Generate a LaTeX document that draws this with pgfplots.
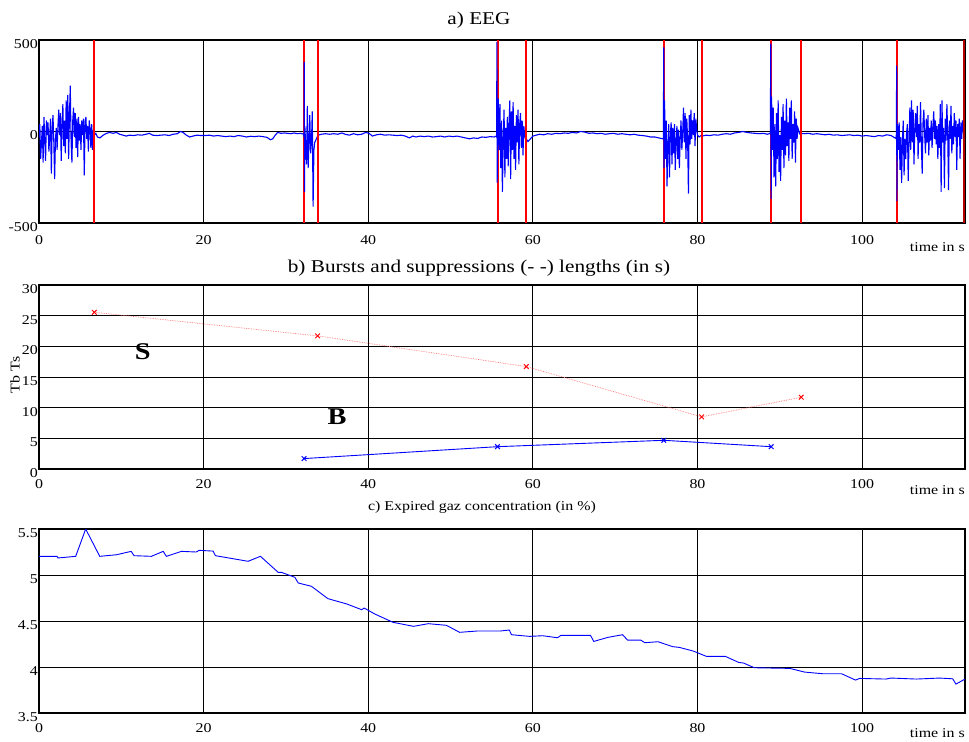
\documentclass[border=0pt]{standalone}
\usepackage{fontspec}
\setmainfont{Liberation Serif}[FakeStretch=1.18]
\usepackage{pgfplots}
\pgfplotsset{compat=1.18}
\newcommand\tk{\fontsize{13.5bp}{16bp}\selectfont}
\newcommand\ttl{\fontsize{18bp}{21bp}\selectfont}
\pgfplotsset{
  common/.style={
    scale only axis, width=926bp, xmin=0, xmax=112.5,
    xtick={0,20,40,60,80,100},
    axis line style={line width=1.5bp},
    tick style={black, line width=0.8bp}, major tick length=4bp,
    grid style={black, line width=0.8bp},
    xmajorgrids,
    tick label style={font=\tk},
    /pgf/number format/assume math mode=true,
    xticklabel style={anchor=north, inner sep=0pt, yshift=-10bp},
    yticklabel style={anchor=east, inner sep=0pt, xshift=-1bp, yshift=-4bp},
    clip=true,
  }
}
\begin{document}
\begin{tikzpicture}
\useasboundingbox (0,0) rectangle (969bp,-742bp);
% ---------------- a) EEG
\begin{axis}[common, at={(39bp,-223bp)}, anchor=south west, height=183bp,
  ymin=-500, ymax=500, ytick={-500,0,500}, yticklabels={-500,0,500},
  ymajorgrids,
  xticklabel style={yshift=-2bp}]
\addplot[red, line width=1.8bp, unbounded coords=jump] coordinates {
(6.72,-500) (6.72,500) (6.72,nan)
(32.2,-500) (32.2,500) (32.2,nan)
(33.85,-500) (33.85,500) (33.85,nan)
(55.75,-500) (55.75,500) (55.75,nan)
(59.2,-500) (59.2,500) (59.2,nan)
(75.9,-500) (75.9,500) (75.9,nan)
(80.5,-500) (80.5,500) (80.5,nan)
(88.95,-500) (88.95,500) (88.95,nan)
(92.6,-500) (92.6,500) (92.6,nan)
(104.2,-500) (104.2,500)
};
\addplot[blue, line width=1.1bp] coordinates {
(0.0,-30) (0.1,40) (0.2,-150) (0.3,-60) (0.4,30) (0.5,-170) (0.6,80) (0.7,-40) (0.8,-160) (0.9,60)
(1.0,-20) (1.1,50) (1.2,-110) (1.3,-30) (1.4,70) (1.5,-230) (1.6,20) (1.7,90) (1.8,-60) (1.9,-260)
(2.0,-40) (2.1,20) (2.2,-100) (2.3,30) (2.4,120) (2.5,-20) (2.6,100) (2.7,-160) (2.8,40) (2.9,150)
(3.0,-80) (3.1,60) (3.2,-120) (3.3,170) (3.4,-40) (3.5,200) (3.6,-150) (3.7,90) (3.8,250) (3.9,-60)
(4.0,-170) (4.1,60) (4.2,130) (4.3,-30) (4.4,100) (4.5,-90) (4.6,70) (4.7,-140) (4.8,80) (4.9,-50)
(5.0,40) (5.1,-100) (5.2,60) (5.3,-20) (5.4,70) (5.5,-240) (5.6,50) (5.7,80) (5.8,-40) (5.9,30)
(6.0,-110) (6.1,60) (6.2,20) (6.3,-90) (6.4,40) (6.5,-100) (6.6,10)
(6.7,-20) (6.9,-10) (7.1,-30) (7.4,-35) (7.8,-20) (8.2,-10) (8.6,-5) (9.0,-10) (9.4,-5) (9.8,-15)
(10.2,-20) (10.6,-25) (11.0,-20) (11.5,-22) (12.0,-18) (12.5,-20) (13.0,-15) (13.4,-10) (13.8,-20)
(14.3,-22) (14.8,-20) (15.3,-18) (15.8,-22) (16.3,-15) (16.8,-12) (17.2,0) (17.5,-5) (17.9,-20)
(18.3,-30) (18.7,-25) (19.2,-20) (19.7,-22) (20.2,-22) (20.7,-20) (21.2,-25) (21.7,-22) (22.2,-25)
(22.7,-28) (23.2,-25) (23.7,-28) (24.2,-22) (24.7,-25) (25.2,-30) (25.7,-26) (26.2,-28) (26.7,-25)
(27.2,-28) (27.7,-32) (28.1,-45) (28.4,-40) (28.7,-20) (29.0,-5) (29.4,-10) (29.8,-8) (30.2,-10)
(30.6,-12) (31.0,-8) (31.4,-12) (31.8,-10) (32.15,-15)
(32.2,-30) (32.22,380) (32.26,-330) (32.3,30) (32.4,-80) (32.5,-180) (32.6,140) (32.7,-200)
(32.8,-60) (32.9,90) (33.0,-120) (33.1,-60) (33.2,110) (33.3,-410) (33.4,-100) (33.5,-60)
(33.7,-40) (33.9,-20)
(34.3,-15) (34.8,-12) (35.3,-15) (35.8,-12) (36.3,-15) (36.8,-8) (37.2,-15) (37.7,-20) (38.2,-12)
(38.7,-18) (39.2,-15) (39.7,-5) (40.1,-10) (40.5,-25) (41.0,-18) (41.5,-15) (42.0,-20) (42.5,-18)
(43.0,-20) (43.5,-22) (44.0,-20) (44.5,-25) (45.0,-35) (45.4,-25) (45.8,-30) (46.3,-25) (46.8,-28)
(47.3,-25) (47.8,-30) (48.3,-28) (48.8,-25) (49.3,-30) (49.8,-25) (50.3,-28) (50.8,-25) (51.3,-30)
(51.8,-35) (52.3,-40) (52.8,-35) (53.3,-38) (53.8,-30) (54.3,-32) (54.8,-28) (55.3,-30) (55.55,-25)
(55.6,-30) (55.63,490) (55.66,-280) (55.8,180) (55.9,-100) (56.0,150) (56.1,-200) (56.2,60)
(56.3,-330) (56.4,-40) (56.5,120) (56.6,-250) (56.7,20) (56.8,-150) (56.9,80) (57.0,-190)
(57.1,40) (57.2,170) (57.3,-260) (57.4,110) (57.5,-100) (57.6,160) (57.7,-150) (57.8,30)
(57.9,-210) (58.0,90) (58.1,-60) (58.2,120) (58.3,-180) (58.4,40) (58.5,100) (58.6,-90)
(58.7,60) (58.8,-130) (58.9,30) (59.0,-20) (59.1,-40)
(59.2,-40) (59.4,-55) (59.7,-40) (60.0,-25) (60.4,-20) (60.8,-15) (61.3,-18) (61.8,-12) (62.3,-15)
(62.8,-10) (63.3,-12) (63.8,-8) (64.3,-10) (64.8,-5) (65.3,-8) (65.8,0) (66.3,-3) (66.8,-10)
(67.3,-8) (67.8,-12) (68.3,-10) (68.8,-15) (69.3,-12) (69.8,-10) (70.3,-15) (70.8,-12) (71.3,-15)
(71.8,-18) (72.3,-15) (72.8,-20) (73.3,-22) (73.8,-25) (74.3,-30) (74.8,-30) (75.3,-35) (75.8,-40)
(75.85,-40) (75.9,460) (75.93,-200) (76.0,170) (76.1,-150) (76.2,60) (76.3,-300) (76.4,-80)
(76.5,40) (76.6,-250) (76.7,-20) (76.8,50) (76.9,-180) (77.0,20) (77.1,-120) (77.2,40)
(77.3,-210) (77.4,-50) (77.5,30) (77.6,-150) (77.7,10) (77.8,-200) (77.9,-40) (78.0,60)
(78.1,-100) (78.2,-10) (78.3,130) (78.4,-60) (78.5,100) (78.6,-150) (78.7,70) (78.8,-40)
(78.9,-340) (79.0,90) (79.1,-70) (79.2,120) (79.3,-40) (79.4,60) (79.5,-20) (79.6,100)
(79.7,-80) (79.8,70) (79.9,10) (80.0,-20) (80.2,-30) (80.5,-20)
(80.6,-25) (81.0,-20) (81.5,-22) (82.0,-18) (82.5,-20) (83.0,-15) (83.5,-12) (84.0,-15) (84.5,-8)
(85.0,-5) (85.5,0) (86.0,-5) (86.5,-8) (87.0,-10) (87.5,-12) (88.0,-10) (88.5,-15) (88.85,-10)
(88.9,480) (88.95,-370) (89.0,190) (89.1,-100) (89.2,130) (89.3,-250) (89.4,40) (89.5,-300)
(89.6,100) (89.7,-150) (89.8,170) (89.9,-220) (90.0,-20) (90.1,-270) (90.2,80) (90.3,-100)
(90.4,150) (90.5,-200) (90.6,60) (90.7,-130) (90.8,180) (90.9,-80) (91.0,50) (91.1,-160)
(91.2,130) (91.3,-40) (91.4,170) (91.5,-150) (91.6,40) (91.7,-60) (91.8,110) (91.9,-170)
(92.0,70) (92.1,-40) (92.2,20) (92.4,-10) (92.5,0)
(92.6,-10) (93.0,-12) (93.5,-10) (94.0,-15) (94.5,-12) (95.0,-15) (95.5,-18) (96.0,-15) (96.5,-20)
(97.0,-18) (97.5,-22) (98.0,-20) (98.5,-18) (99.0,-22) (99.5,-20) (100.0,-25) (100.5,-22)
(101.0,-25) (101.5,-28) (102.0,-22) (102.5,-25) (103.0,-18) (103.5,-22) (104.0,-35) (104.15,-40)
(104.2,360) (104.22,-380) (104.3,40) (104.4,-100) (104.5,50) (104.6,-210) (104.7,-30) (104.8,-280)
(104.9,-50) (105.0,60) (105.1,-240) (105.2,-40) (105.3,-150) (105.4,-10) (105.5,40) (105.6,-270)
(105.7,-60) (105.8,130) (105.9,-100) (106.0,170) (106.1,-60) (106.2,120) (106.3,-180) (106.4,20)
(106.5,100) (106.6,-30) (106.7,140) (106.8,-150) (106.9,40) (107.0,-60) (107.1,160) (107.2,-80)
(107.3,-230) (107.4,50) (107.5,120) (107.6,-20) (107.7,-120) (107.8,70) (107.9,-60) (108.0,90)
(108.1,-130) (108.2,20) (108.3,-50) (108.4,60) (108.5,-90) (108.6,30) (108.7,110) (108.8,-40)
(108.9,60) (109.0,-70) (109.1,30) (109.2,-150) (109.3,40) (109.4,-90) (109.5,150) (109.6,-330)
(109.7,170) (109.8,-60) (109.9,20) (110.0,-310) (110.1,70) (110.2,-50) (110.3,150) (110.4,-20)
(110.5,-320) (110.6,60) (110.7,-40) (110.8,140) (110.9,-120) (111.0,30) (111.1,-70) (111.2,100)
(111.3,-30) (111.4,60) (111.5,-210) (111.6,40) (111.7,-30) (111.8,70) (111.9,-150) (112.0,50)
(112.1,-40) (112.2,60) (112.3,10) (112.45,30)
};
\addplot[red, line width=1.8bp, unbounded coords=jump] coordinates {
(6.72,-500) (6.72,500) (6.72,nan)
(33.85,-500) (33.85,500) (33.85,nan)
(59.2,-500) (59.2,500) (59.2,nan)
(80.5,-500) (80.5,500) (80.5,nan)
(92.6,-500) (92.6,500)
};
\addplot[red!70!black, line width=1.6bp] coordinates {(112.4,-500) (112.4,500)};
\end{axis}
% ---------------- b) bursts and suppressions
\begin{axis}[common, at={(39bp,-469bp)}, anchor=south west, height=184bp,
  ymin=0, ymax=30, ytick={0,5,10,15,20,25,30}, ymajorgrids]
\addplot[red!55, densely dotted, line width=0.7bp, mark=x, mark size=3.3bp,
  mark options={solid, red, line width=1bp}] coordinates {
(6.72,25.55) (33.85,21.7) (59.2,16.7) (80.5,8.5) (92.6,11.7)
};
\addplot[blue, line width=0.9bp, mark=x, mark size=3.3bp,
  mark options={blue, line width=1bp}] coordinates {
(32.2,1.7) (55.7,3.64) (75.9,4.68) (88.95,3.64)
};
\node[font=\fontsize{24bp}{26bp}\selectfont\bfseries] at (axis cs:12.6,19.2) {S};
\node[font=\fontsize{24bp}{26bp}\selectfont\bfseries] at (axis cs:36.2,8.6) {B};
\end{axis}
% ---------------- c) expired gas
\begin{axis}[common, at={(39bp,-713bp)}, anchor=south west, height=184bp,
  ymin=3.5, ymax=5.5, ytick={3.5,4,4.5,5,5.5}, ymajorgrids]
\addplot[blue, line width=0.9bp] coordinates {
(0,5.203) (2.19,5.203) (2.3,5.185) (4.46,5.203) (5.67,5.5) (7.38,5.203) (9.4,5.22) (11.2,5.257)
(11.55,5.21) (13.66,5.203) (15.08,5.257) (15.48,5.203) (17.3,5.257) (19.1,5.25) (19.45,5.268)
(21.15,5.26) (21.44,5.21) (25.4,5.149) (26.9,5.203) (29.06,5.029) (29.46,5.029) (31.08,4.975)
(31.5,4.913) (33.1,4.877) (35.1,4.743) (37.4,4.685) (39.2,4.623) (39.5,4.641) (40.8,4.576)
(43.0,4.486) (45.5,4.442) (47.3,4.471) (49.5,4.453) (51.1,4.377) (53.2,4.391) (56.0,4.391)
(57.14,4.402) (57.4,4.351) (59.6,4.333) (61.2,4.340) (63.0,4.318) (63.4,4.344) (67.0,4.344)
(67.4,4.278) (69.1,4.322) (70.9,4.351) (71.5,4.293) (73.1,4.293) (73.6,4.264) (75.2,4.275)
(77.0,4.221) (77.8,4.213) (79.5,4.173) (81.1,4.115) (83.4,4.115) (85.0,4.050) (85.6,4.043)
(86.9,3.992) (91.2,3.985) (93.0,3.945) (95.2,3.927) (97.5,3.927) (99.2,3.858) (99.7,3.876)
(102.9,3.869) (103.5,3.880) (106.6,3.869) (109.4,3.880) (111.0,3.872) (111.4,3.814) (112.5,3.869)
};
\end{axis}
% ---------------- texts
\node[font=\ttl] at (479bp,-20bp) {a) EEG};
\node[font=\ttl] at (479bp,-268bp) {b) Bursts and suppressions (- -) lengths (in s)};
\node[font=\tk] at (482bp,-507bp) {c) Expired gaz concentration (in \%)};
\node[font=\tk, anchor=east, inner sep=0pt] at (965bp,-247bp) {time in s};
\node[font=\tk, anchor=east, inner sep=0pt] at (965bp,-490bp) {time in s};
\node[font=\tk, anchor=east, inner sep=0pt] at (965bp,-733bp) {time in s};
\node[font=\tk, rotate=90] at (15bp,-375bp) {Tb Ts};
\end{tikzpicture}
\end{document}
